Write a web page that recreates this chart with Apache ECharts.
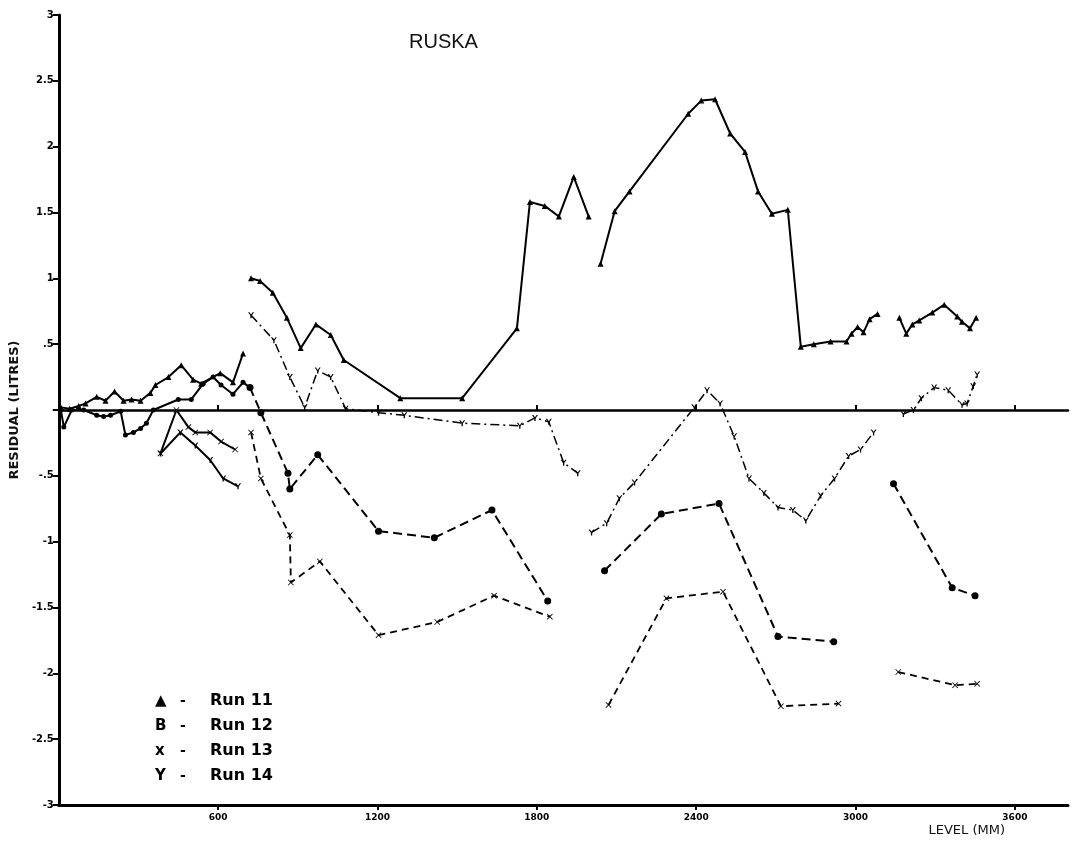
<!DOCTYPE html>
<html><head><meta charset="utf-8">
<script src="https://cdn.jsdelivr.net/npm/echarts@6/dist/echarts.min.js"></script>
<style>html,body{margin:0;padding:0;background:#fff}#c{width:1072px;height:845px}</style>
</head><body><div id="c"></div>
<script>
// Level (mm), residual (litres), one array per drawn segment
const run11a = [[8,0.02],[41,0.01],[75,0.03],[101,0.05],[143,0.10],[176,0.07],[210,0.14],[244,0.07],[274,0.08],[308,0.07],[345,0.13],[364,0.19],[413,0.25],[461,0.34],[506,0.23],[536,0.20],[608,0.28],[656,0.21],[694,0.43]];
const run11b = [[724,1.00],[758,0.98],[806,0.89],[859,0.70],[911,0.47],[968,0.65],[1024,0.57],[1073,0.38],[1286,0.09],[1519,0.09],[1725,0.62],[1774,1.58],[1830,1.55],[1883,1.47],[1939,1.77],[1995,1.47]];
const run11c = [[2040,1.11],[2093,1.51],[2149,1.66],[2370,2.25],[2419,2.35],[2471,2.36],[2528,2.10],[2584,1.96],[2633,1.66],[2685,1.49],[2745,1.52],[2794,0.48],[2843,0.50],[2906,0.52],[2966,0.52],[2985,0.58],[3008,0.63],[3030,0.59],[3053,0.69],[3083,0.73]];
const run11d = [[3165,0.70],[3191,0.58],[3214,0.65],[3240,0.68],[3289,0.74],[3334,0.80],[3383,0.71],[3401,0.67],[3431,0.62],[3454,0.70]];

const run12a = [[8,0.00],[19,-0.13],[49,0.00],[94,0.00],[143,-0.04],[169,-0.05],[195,-0.04],[233,-0.01],[251,-0.19],[281,-0.17],[308,-0.14],[330,-0.10],[356,0.00],[450,0.08],[499,0.08],[544,0.20],[581,0.25],[611,0.19],[656,0.12],[694,0.21],[720,0.17]];
const run12b = [[720,0.17],[761,-0.02],[863,-0.48],[870,-0.60],[975,-0.34],[1204,-0.92],[1414,-0.97],[1631,-0.76],[1841,-1.45]];
const run12c = [[2055,-1.22],[2269,-0.79],[2486,-0.71],[2708,-1.72],[2918,-1.76]];
const run12d = [[3143,-0.56],[3364,-1.35],[3450,-1.41]];

const run13a = [[383,-0.33],[443,0.00],[488,-0.13],[514,-0.17],[570,-0.17],[611,-0.24],[664,-0.30]];
const run13b = [[724,-0.17],[761,-0.52],[870,-0.95],[874,-1.31],[983,-1.15],[1204,-1.71],[1425,-1.61],[1639,-1.41],[1849,-1.57]];
const run13c = [[2070,-2.24],[2288,-1.43],[2501,-1.38],[2719,-2.25],[2936,-2.23]];
const run13d = [[3161,-1.99],[3375,-2.09],[3458,-2.08]];

const run14a = [[383,-0.33],[458,-0.17],[514,-0.27],[570,-0.38],[619,-0.52],[675,-0.58]];
const run14b = [[724,0.72],[810,0.53],[870,0.25],[926,0.02],[975,0.30],[1024,0.25],[1080,0.01],[1204,-0.02],[1301,-0.04],[1519,-0.10],[1736,-0.12],[1793,-0.06],[1845,-0.09],[1901,-0.40],[1954,-0.48]];
const run14c = [[2006,-0.93],[2063,-0.86],[2111,-0.67],[2168,-0.55],[2393,0.02],[2441,0.15],[2490,0.05],[2543,-0.20],[2599,-0.52],[2655,-0.63],[2708,-0.74],[2764,-0.76],[2813,-0.84],[2869,-0.65],[2921,-0.52],[2974,-0.35],[3019,-0.30],[3068,-0.17]];
const run14d = [[3180,-0.03],[3218,0.00],[3248,0.09],[3296,0.17],[3349,0.15],[3401,0.04],[3420,0.05],[3443,0.18],[3458,0.27]];

const runNames = ['Run 11','Run 12','Run 13','Run 14'];
const legendMarks = ['\u25B2','B','x','Y'];
const xTicks = [600,1200,1800,2400,3000,3600];

const X_SYM = 'path://M0,1L1,0L5,4L9,0L10,1L6,5L10,9L9,10L5,6L1,10L0,9L4,5Z';
const Y_SYM = 'path://M0,0L2.2,0L5,4L7.8,0L10,0L6.1,5.6L6.1,10L3.9,10L3.9,5.6Z';

function seg(name, data, type, width, symbol, size) {
  return {
    type: 'line', name: name, data: data, xAxisIndex: 0, yAxisIndex: 0,
    symbol: symbol, symbolSize: size, showSymbol: true, animation: false,
    lineStyle: { color: '#000', width: width, type: type },
    itemStyle: { color: '#000' }, z: 3
  };
}
const dash12 = [9, 5], dash13 = [7, 5], dash14 = [9, 4, 2, 4];
const series = [
  seg('Run 11', run11a, 'solid', 2, 'triangle', 6),
  seg('Run 11', run11b, 'solid', 2, 'triangle', 6),
  seg('Run 11', run11c, 'solid', 2, 'triangle', 6),
  seg('Run 11', run11d, 'solid', 2, 'triangle', 6),
  seg('Run 12', run12a, 'solid', 2, 'circle', 5),
  seg('Run 12', run12b, dash12, 2, 'circle', 7),
  seg('Run 12', run12c, dash12, 2, 'circle', 7),
  seg('Run 12', run12d, dash12, 2, 'circle', 7),
  seg('Run 13', run13a, 'solid', 2, X_SYM, 6),
  seg('Run 13', run13b, dash13, 1.8, X_SYM, 6),
  seg('Run 13', run13c, dash13, 1.8, X_SYM, 6),
  seg('Run 13', run13d, dash13, 1.8, X_SYM, 6),
  seg('Run 14', run14a, 'solid', 2, Y_SYM, 6),
  seg('Run 14', run14b, dash14, 1.5, Y_SYM, 6),
  seg('Run 14', run14c, dash14, 1.5, Y_SYM, 6),
  seg('Run 14', run14d, dash14, 1.5, Y_SYM, 6)
];

const chart = echarts.init(document.getElementById('c'), null, { renderer: 'canvas' });
chart.setOption({
  backgroundColor: '#fff',
  animation: false,
  title: {
    text: 'RUSKA', left: 404, top: 27,
    textStyle: { fontFamily: 'Liberation Sans', fontSize: 20, fontWeight: 'normal', color: '#111' }
  },
  legend: {
    orient: 'vertical', left: 145, top: 688, icon: 'none', itemWidth: 0, itemHeight: 16, itemGap: 9,
    selectedMode: false, data: runNames,
    formatter: function (n) { return '{s|' + legendMarks[runNames.indexOf(n)] + '}{d|-}{r|' + n + '}'; },
    textStyle: {
      color: '#000',
      rich: {
        s: { width: 25, fontFamily: 'DejaVu Sans', fontWeight: 'bold', fontSize: 15, lineHeight: 16, color: '#000' },
        d: { width: 30, fontFamily: 'DejaVu Sans', fontWeight: 'bold', fontSize: 14, lineHeight: 16, color: '#000' },
        r: { fontFamily: 'DejaVu Sans', fontWeight: 'bold', fontSize: 16, lineHeight: 16, color: '#000' }
      }
    }
  },
  grid: { left: 55, right: 4, top: 15, bottom: 40, containLabel: false },
  xAxis: [
    {
      type: 'value', position: 'bottom', min: 0, max: 3800, interval: 600,
      name: 'LEVEL (MM)', nameLocation: 'end', nameGap: -63, nameMoveOverlap: false,
      nameTextStyle: { fontFamily: 'DejaVu Sans', fontSize: 13, color: '#111', align: 'right', verticalAlign: 'top', padding: [19, 0, 0, 0] },
      axisLine: { onZero: false, lineStyle: { color: '#000', width: 3 } },
      axisTick: { show: true, length: 5, customValues: xTicks, lineStyle: { color: '#000', width: 2 } },
      axisLabel: { show: true, customValues: xTicks, margin: 8, fontFamily: 'DejaVu Sans', fontWeight: 'bold', fontSize: 9, color: '#000',
        formatter: function (v) { return (v > 0 && v % 600 === 0 && v <= 3600) ? String(v) : ''; } },
      splitLine: { show: false }
    },
    {
      type: 'value', position: 'top', min: 0, max: 3800, interval: 600,
      axisLine: { onZero: true, lineStyle: { color: '#000', width: 2.5 } },
      axisTick: { show: true, length: 5, customValues: xTicks, lineStyle: { color: '#000', width: 2 } },
      axisLabel: { show: false },
      splitLine: { show: false }
    }
  ],
  yAxis: {
    type: 'value', min: -3, max: 3, interval: 0.5,
    name: 'RESIDUAL (LITRES)', nameLocation: 'middle', nameGap: 26, nameRotate: 90,
    nameTextStyle: { fontFamily: 'DejaVu Sans', fontWeight: 'bold', fontSize: 13, color: '#111' },
    axisLine: { onZero: false, lineStyle: { color: '#000', width: 3 } },
    axisTick: { show: true, length: 6, lineStyle: { color: '#000', width: 2 } },
    axisLabel: { margin: 5, fontFamily: 'DejaVu Sans', fontWeight: 'bold', fontSize: 10, color: '#000',
      formatter: function (v) { if (Math.abs(v) < 1e-9) return ''; return String(v).replace(/^(-?)0\./, '$1.'); } },
    splitLine: { show: false }
  },
  series: series
});
</script></body></html>
